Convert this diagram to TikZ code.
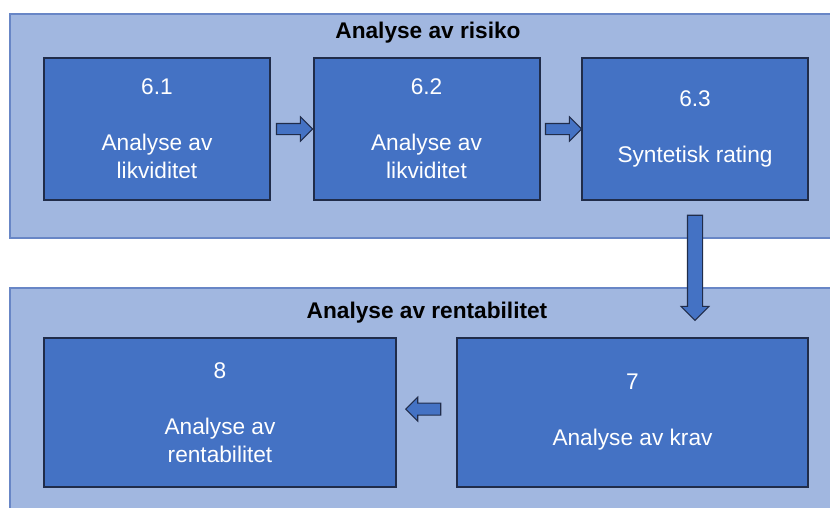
\documentclass[tikz,border=0pt]{standalone}
\usepackage{fontspec}
\setmainfont{Liberation Sans}
\usetikzlibrary{shapes.arrows, calc}

\definecolor{panelBlue}{RGB}{161,183,224}
\definecolor{panelEdge}{RGB}{104,134,198}
\definecolor{boxBlue}{RGB}{68,114,196}
\definecolor{edgeNavy}{RGB}{32,44,74}

\begin{document}
\begin{tikzpicture}[
    x=0.75pt, y=-0.75pt,
    % Panel style: light blue background band
    panelStyle/.style={
        fill=panelBlue,
        draw=panelEdge,
        line width=1pt
    },
    % Panel titles: bold, black
    titleStyle/.style={
        font=\fontsize{17}{21}\selectfont\bfseries
    },
    % Step boxes: dark blue fill, white text
    boxStyle/.style={
        align=center,
        font=\fontsize{17}{21}\selectfont,
        text=white,
        fill=boxBlue,
        draw=edgeNavy,
        line width=1.5pt,
        minimum width=169.5pt,
        minimum height=106.5pt
    },
    % Wide boxes in the lower band
    wideBox/.style={
        boxStyle,
        minimum width=263.5pt,
        minimum height=111.75pt
    },
    % Block arrows between the boxes
    blockArrow/.style={
        single arrow,
        fill=boxBlue,
        draw=edgeNavy,
        line width=0.8pt,
        inner xsep=0pt,
        text height=0pt,
        text depth=0pt,
        minimum width=1pt,
        single arrow head indent=0pt
    }
]
\clip (0,0) rectangle (830,507);
\useasboundingbox (0,0) rectangle (830,507);

%--- Background bands ---
\draw[panelStyle] (10,14) rectangle (850,238);
\draw[panelStyle] (10,288) rectangle (850,530);

\node[titleStyle] (riskTitle) at (428,33)  {Analyse av risiko};
\node[titleStyle] (rentTitle) at (427,313) {Analyse av rentabilitet};

%--- Top row of boxes ---
\node[boxStyle] (b61) at (157,129)   {6.1\\[21pt]Analyse av\\likviditet};
\node[boxStyle] (b62) at (426.5,129) {6.2\\[21pt]Analyse av\\likviditet};
\node[boxStyle] (b63) at (695,129)   {6.3\\[21pt]Syntetisk rating};

%--- Bottom row of boxes ---
\node[wideBox] (b8) at (220,412.5)   {8\\[21pt]Analyse av\\rentabilitet};
\node[wideBox] (b7) at (632.5,412.5) {7\\[21pt]Analyse av krav};

%-----------------------
%     Block arrows
%-----------------------
% (1) 6.1 -> 6.2
\node[blockArrow, minimum height=27pt, inner ysep=3.75pt,
      single arrow head extend=4.9pt]
  (a1) at ($(b61.east)!0.5!(b62.west)$) {};

% (2) 6.2 -> 6.3
\node[blockArrow, minimum height=27pt, inner ysep=3.75pt,
      single arrow head extend=4.9pt]
  (a2) at ($(b62.east)!0.5!(b63.west)$) {};

% (3) 6.3 -> 7
\node[blockArrow, yshift=3.75pt, rotate=-90, minimum height=78.75pt,
      inner ysep=5.25pt, single arrow head extend=4.75pt]
  (a3) at ($(b63.south)!0.5!(b63.south |- b7.north)$) {};

% (4) 7 -> 8
\node[blockArrow, shape border rotate=180, minimum height=26.25pt,
      inner ysep=4.1pt, single arrow head extend=4.5pt, yshift=2.5pt]
  (a4) at ($(b8.east)!0.5!(b7.west)$) {};
\end{tikzpicture}
\end{document}
